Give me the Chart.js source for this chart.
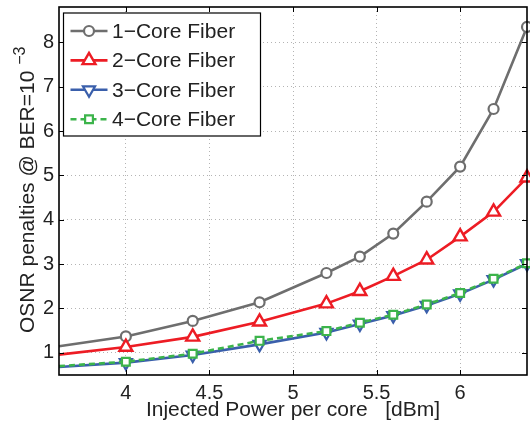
<!DOCTYPE html>
<html><head><meta charset="utf-8">
<script src="https://cdn.jsdelivr.net/npm/chart.js@4/dist/chart.umd.min.js"></script>
<style>html,body{margin:0;padding:0;background:#fff;}</style>
</head><body>
<canvas id="c" width="530" height="426"></canvas>
<script>
const powers = [3.6, 4.0, 4.4, 4.8, 5.2, 5.4, 5.6, 5.8, 6.0, 6.2, 6.4];
const core1 = [1.15, 1.37, 1.72, 2.14, 2.80, 3.17, 3.69, 4.41, 5.20, 6.50, 8.35];
const core2 = [0.96, 1.13, 1.36, 1.70, 2.11, 2.39, 2.73, 3.10, 3.62, 4.18, 4.95];
const core3 = [0.68, 0.78, 0.95, 1.19, 1.46, 1.65, 1.84, 2.07, 2.33, 2.65, 3.01];
const core4 = [0.70, 0.80, 0.98, 1.27, 1.49, 1.68, 1.86, 2.09, 2.35, 2.67, 3.02];
const seriesNames = ['1\u2212Core Fiber', '2\u2212Core Fiber', '3\u2212Core Fiber', '4\u2212Core Fiber'];
const xTicks = [4, 4.5, 5, 5.5, 6];
const yTicks = [1, 2, 3, 4, 5, 6, 7, 8];
const xTitle = 'Injected Power per core   [dBm]';
const yTitleMain = 'OSNR penalties @ BER=10';
const yTitleSup = '\u22123';

const FONT = '"Liberation Sans", Arial, Helvetica, sans-serif';
const TEXT = '#222';

function pts(vals) { return powers.map((p, i) => ({x: p, y: vals[i]})); }
const hideFirst = (r) => (ctx) => ctx.dataIndex === 0 ? 0 : r;

const datasets = [
  {label: seriesNames[0], data: pts(core1), borderColor: '#6e6e6e', backgroundColor: '#fff',
   borderWidth: 2.6, pointStyle: 'circle', pointRadius: hideFirst(5), pointBorderWidth: 2.2, order: 4},
  {label: seriesNames[1], data: pts(core2), borderColor: '#ed1c24', backgroundColor: '#fff',
   borderWidth: 2.6, pointStyle: 'triangle', pointRadius: hideFirst(7.5), pointBorderWidth: 2.4, order: 3},
  {label: seriesNames[2], data: pts(core3), borderColor: '#3a5fab', backgroundColor: '#fff',
   borderWidth: 2.6, pointStyle: 'triangle', pointRotation: 180, pointRadius: hideFirst(7), pointBorderWidth: 2.2, order: 2},
  {label: seriesNames[3], data: pts(core4), borderColor: '#3cb44b', backgroundColor: '#fff',
   borderWidth: 2.6, borderDash: [6, 4], pointStyle: 'rect', pointRadius: hideFirst(5.5), pointBorderWidth: 2.2, order: 1}
];
datasets.forEach(d => { d.pointBackgroundColor = '#fff'; d.pointBorderColor = d.borderColor; d.tension = 0; d.clip = false; d.pointHoverRadius = d.pointRadius; });

function noPad(s) { s.paddingTop = 0; s.paddingBottom = 0; s.paddingLeft = 0; s.paddingRight = 0; }

const framePlugin = {
  id: 'frame',
  afterDraw(chart) {
    const {ctx, chartArea: a, scales: {x, y}} = chart;
    ctx.save();
    ctx.strokeStyle = '#000';
    ctx.lineWidth = 1.6;
    ctx.strokeRect(a.left, a.top, a.right - a.left, a.bottom - a.top);
    ctx.lineWidth = 1;
    const tl = 5;
    ctx.beginPath();
    xTicks.forEach(v => {
      const px = Math.round(x.getPixelForValue(v)) + 0.5;
      ctx.moveTo(px, a.bottom); ctx.lineTo(px, a.bottom - tl);
      ctx.moveTo(px, a.top); ctx.lineTo(px, a.top + tl);
    });
    yTicks.forEach(v => {
      const py = Math.round(y.getPixelForValue(v)) + 0.5;
      ctx.moveTo(a.left, py); ctx.lineTo(a.left + tl, py);
      ctx.moveTo(a.right, py); ctx.lineTo(a.right - tl, py);
    });
    ctx.stroke();

    // y axis title with superscript
    ctx.save();
    ctx.translate(33.5, 333);
    ctx.rotate(-Math.PI / 2);
    ctx.fillStyle = TEXT;
    ctx.textAlign = 'left';
    ctx.textBaseline = 'alphabetic';
    ctx.font = '21px ' + FONT;
    ctx.fillText(yTitleMain, 0, 0);
    const w = ctx.measureText(yTitleMain + ' ').width;
    ctx.font = '16px ' + FONT;
    ctx.fillText(yTitleSup, w, -9);
    ctx.restore();

    // legend
    const lx = a.left + 4.5, ly = a.top + 6, lw = 197, lh = 123;
    ctx.fillStyle = '#fff';
    ctx.fillRect(lx, ly, lw, lh);
    ctx.strokeStyle = '#000';
    ctx.lineWidth = 1.2;
    ctx.strokeRect(lx, ly, lw, lh);
    ctx.font = '21px ' + FONT;
    ctx.textBaseline = 'middle';
    ctx.textAlign = 'left';
    chart.data.datasets.forEach((ds, i) => {
      const yy = ly + 18 + i * 29.4;
      ctx.save();
      ctx.strokeStyle = ds.borderColor;
      ctx.lineWidth = ds.borderWidth;
      ctx.setLineDash(ds.borderDash || []);
      ctx.beginPath();
      ctx.moveTo(lx + 7, yy); ctx.lineTo(lx + 44, yy);
      ctx.stroke();
      ctx.setLineDash([]);
      ctx.fillStyle = '#fff';
      ctx.lineWidth = ds.pointBorderWidth;
      const r = typeof ds.pointRadius === 'function' ? ds.pointRadius({dataIndex: 1}) : ds.pointRadius;
      Chart.helpers.drawPoint(ctx, {pointStyle: ds.pointStyle, radius: r, rotation: ds.pointRotation || 0, borderWidth: ds.pointBorderWidth}, lx + 25.5, yy);
      ctx.restore();
      ctx.fillStyle = TEXT;
      ctx.fillText(ds.label, lx + 48.5, yy + 1);
    });
    ctx.restore();
  }
};

new Chart(document.getElementById('c'), {
  type: 'line',
  data: {datasets},
  options: {
    responsive: false,
    devicePixelRatio: 1,
    animation: false,
    events: [],
    layout: {autoPadding: false, padding: {top: 7, right: 3, left: 0, bottom: 0}},
    plugins: {legend: {display: false}, tooltip: {enabled: false}},
    scales: {
      x: {
        type: 'linear', min: 3.6, max: 6.4,
        afterBuildTicks: s => { s.ticks = xTicks.map(v => ({value: v})); },
        afterFit: s => { s.height = 51; noPad(s); },
        ticks: {callback: v => String(v), color: TEXT, font: {family: FONT, size: 20}, padding: 6, maxRotation: 0, autoSkip: false},
        grid: {color: '#b4b4b4', lineWidth: 1, drawTicks: false},
        border: {display: false, dash: [1, 3]},
        title: {display: true, text: xTitle, color: TEXT, font: {family: FONT, size: 21}, padding: {top: 0, bottom: 3}}
      },
      y: {
        type: 'linear', min: 0.5, max: 8.8,
        afterBuildTicks: s => { s.ticks = yTicks.map(v => ({value: v})); },
        afterFit: s => { s.width = 59; noPad(s); },
        ticks: {callback: v => String(v), color: TEXT, font: {family: FONT, size: 20}, padding: 5, autoSkip: false},
        grid: {color: '#b4b4b4', lineWidth: 1, drawTicks: false},
        border: {display: false, dash: [1, 3]}
      }
    }
  },
  plugins: [framePlugin]
});
</script>
</body></html>
